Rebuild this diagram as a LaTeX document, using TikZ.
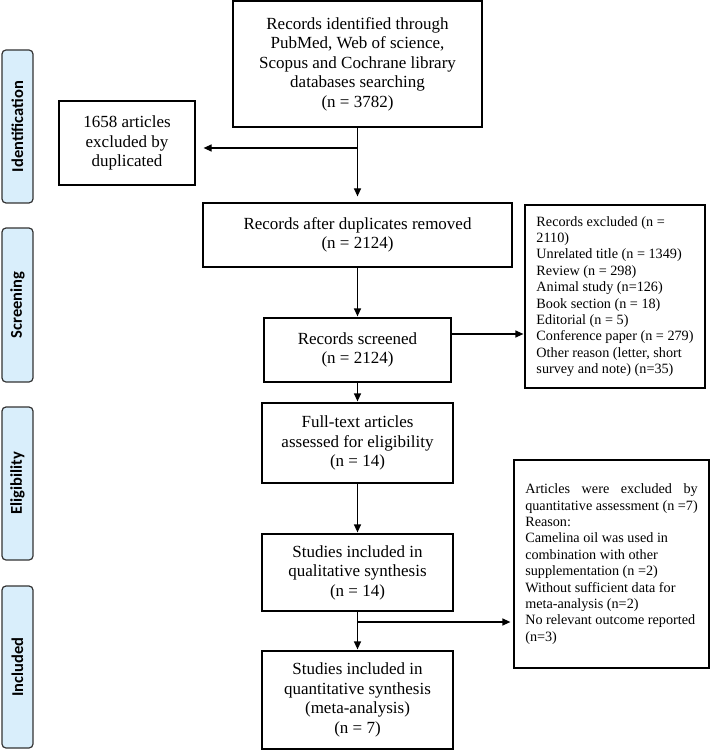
\documentclass[tikz,border=0pt]{standalone}
\usepackage{fontspec}
\setmainfont{Liberation Serif}
\newfontfamily\sidefont{Carlito}
\usetikzlibrary{arrows.meta}
\definecolor{sidefill}{HTML}{D9EEFB}
\definecolor{sidedraw}{HTML}{333333}
\newlength\arlen
\tikzset{
  mainbox/.style={draw, line width=1.2pt, inner sep=0pt, align=center,
    font=\fontsize{17}{19.5}\selectfont},
  sidebox/.style={draw=sidedraw, fill=sidefill, line width=1.2pt, rounded corners=4pt,
    minimum width=31pt, inner sep=0pt},
  sidetext/.style={font=\sidefont\bfseries\fontsize{16.5}{18}\selectfont, rotate=90},
  smallbox/.style={draw, line width=1.2pt, inner sep=0pt, align=left,
    font=\fontsize{14.2}{16.4}\selectfont},
  arr/.style={line width=1.2pt, -{Triangle[length=8pt,width=7pt]}},
  ln/.style={line width=1.2pt}
}
\begin{document}
\begin{tikzpicture}[x=1pt,y=-1pt]
\useasboundingbox (0,0) rectangle (710,751);
% side labels
\node[sidebox, minimum height=153pt] (sid) at (17.5,126.5) {};
\node[sidetext] (sidt) at (sid.center) {Identification};
\node[sidebox, minimum height=154pt] (sscr) at (17.5,305) {};
\node[sidetext] (sscrt) at (sscr.center) {Screening};
\node[sidebox, minimum height=153pt] (seli) at (17.5,483.5) {};
\node[sidetext] (selit) at (seli.center) {Eligibility};
\node[sidebox, minimum height=162pt] (sinc) at (17.5,667) {};
\node[sidetext] (sinct) at (sinc.center) {Included};
% main boxes
\node[mainbox, minimum width=249pt, minimum height=126pt] (b1) at (357.5,64)
  {Records identified through\\PubMed, Web of science,\\Scopus and Cochrane library\\databases searching\\(n = 3782)};
\node[mainbox, minimum width=136pt, minimum height=84pt] (ex1) at (127,143)
  {1658 articles\\excluded by\\duplicated};
\node[mainbox, minimum width=309pt, minimum height=64pt] (b2) at (357.5,235)
  {Records after duplicates removed\\(n = 2124)};
\node[mainbox, minimum width=187pt, minimum height=64pt] (b3) at (357.5,350)
  {Records screened\\(n = 2124)};
\node[mainbox, minimum width=191pt, minimum height=80pt] (b4) at (357.5,443)
  {Full-text articles\\assessed for eligibility\\(n = 14)};
\node[mainbox, minimum width=191pt, minimum height=77pt] (b5) at (357.5,572.5)
  {Studies included in\\qualitative synthesis\\(n = 14)};
\node[mainbox, minimum width=191pt, minimum height=98pt] (b6) at (357.5,700)
  {Studies included in\\quantitative synthesis\\(meta-analysis)\\(n = 7)};
% right boxes
\node[smallbox, minimum width=180pt, minimum height=183pt] (ex2) at (615,296.5)
  {Records excluded (n =\\2110)\\Unrelated title (n = 1349)\\Review (n = 298)\\Animal study (n=126)\\Book section (n = 18)\\Editorial (n = 5)\\Conference paper (n = 279)\\Other reason (letter, short\\survey and note) (n=35)};
\node[smallbox, minimum width=195pt, minimum height=208pt] (ex3) at (611.5,564)
  {\settowidth{\arlen}{quantitative assessment (n =7)}\makebox[\arlen][s]{Articles were excluded by}\\quantitative assessment (n =7)\\Reason:\\Camelina oil was used in\\combination with other\\supplementation (n =2)\\Without sufficient data for\\meta-analysis (n=2)\\No relevant outcome reported\\(n=3)};
% connectors
\coordinate (j1) at (357.5,148);
\coordinate (j2) at (357.5,622);
\draw[arr, shorten >=6pt] (b1.south) -- (b2.north);
\draw[arr, shorten >=8pt] (j1) -- (j1 -| ex1.east);
\draw[arr, shorten >=1pt] (b2.south) -- (b3.north);
\draw[arr, shorten >=1pt] (b3.east |- 0,334) -- (ex2.west |- 0,334);
\draw[arr, shorten >=1pt] (b3.south) -- (b4.north);
\draw[arr, shorten >=1pt] (b4.south) -- (b5.north);
\draw[arr, shorten >=1pt] (b5.south) -- (b6.north);
\draw[arr, shorten >=3pt] (j2) -- (j2 -| ex3.west);
\end{tikzpicture}
\end{document}
